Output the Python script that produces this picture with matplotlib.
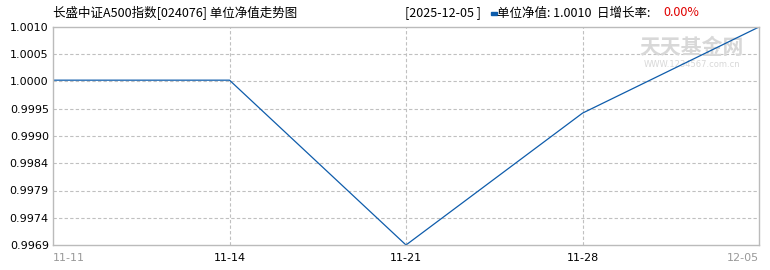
import numpy as np
import matplotlib
matplotlib.use('Agg')
import matplotlib.pyplot as plt

plt.rcParams['font.family'] = ['Noto Sans CJK SC', 'DejaVu Sans']

# --- DADOS ---
datas = ['11-11', '11-14', '11-21', '11-28', '12-05']
nav = [1.0000, 1.0000, 0.9969, 0.99938, 1.0010]
y_min, y_max = 0.9969, 1.0010

fig = plt.figure(figsize=(7.7, 2.7), dpi=100)
ax = fig.add_axes([53 / 770, 25 / 270, 706 / 770, 218 / 270])

x = np.arange(len(datas))
ax.plot(x, nav, color='#0e5cab', linewidth=0.9)

ax.set_xlim(0, len(datas) - 1)
ax.set_ylim(y_min, y_max)

yt = np.linspace(y_min, y_max, 9)
ax.set_yticks(yt)
ax.set_yticklabels([f'{v:.4f}' for v in yt], fontsize=8, family='DejaVu Sans')
ax.set_xticks(x)
ax.set_xticklabels(datas, fontsize=8, family='DejaVu Sans')
for i, lb in enumerate(ax.get_xticklabels()):
    lb.set_color('#999999' if i in (0, len(datas) - 1) else 'black')
    lb.set_ha('left' if i == 0 else ('right' if i == len(datas) - 1 else 'center'))

ax.tick_params(axis='y', length=0, pad=3)
ax.tick_params(axis='x', length=0, pad=6)
for s in ax.spines.values():
    s.set_color('#bbbbbb')
    s.set_linewidth(1)

# grade tracejada
for v in yt[1:-1]:
    ax.axhline(v, color='#c0c0c0', linestyle=(0, (3, 2)), linewidth=0.8, zorder=0)
for xi in x[1:-1]:
    ax.axvline(xi, color='#c0c0c0', linestyle=(0, (3, 2)), linewidth=0.8, zorder=0)

# marca d'agua
ax.text(0.905, 0.905, '天天基金网', transform=ax.transAxes, fontsize=15,
        color='#d8d8d8', ha='center', va='center', fontweight='bold', zorder=0)
ax.text(0.905, 0.83, 'WWW.1234567.com.cn', transform=ax.transAxes, fontsize=6,
        color='#d8d8d8', ha='center', va='center', family='DejaVu Sans', zorder=0)

# titulos
fig.text(53 / 770, 1 - 13 / 270, '长盛中证A500指数[024076] 单位净值走势图',
         fontsize=9, va='center', ha='left')
fig.text(405 / 770, 1 - 13 / 270, '[2025-12-05 ]', fontsize=9, va='center', ha='left')
fig.patches.append(plt.Rectangle((491 / 770, 1 - 14.5 / 270), 6 / 770, 3 / 270,
                                 transform=fig.transFigure, color='#0e5cab'))
fig.text(497 / 770, 1 - 13 / 270, '单位净值: 1.0010  日增长率:', fontsize=9,
         va='center', ha='left')
fig.text(663 / 770, 1 - 13 / 270, '0.00%', fontsize=9, va='center', ha='left',
         color='#e00000')

fig.savefig('out.png', dpi=100)
